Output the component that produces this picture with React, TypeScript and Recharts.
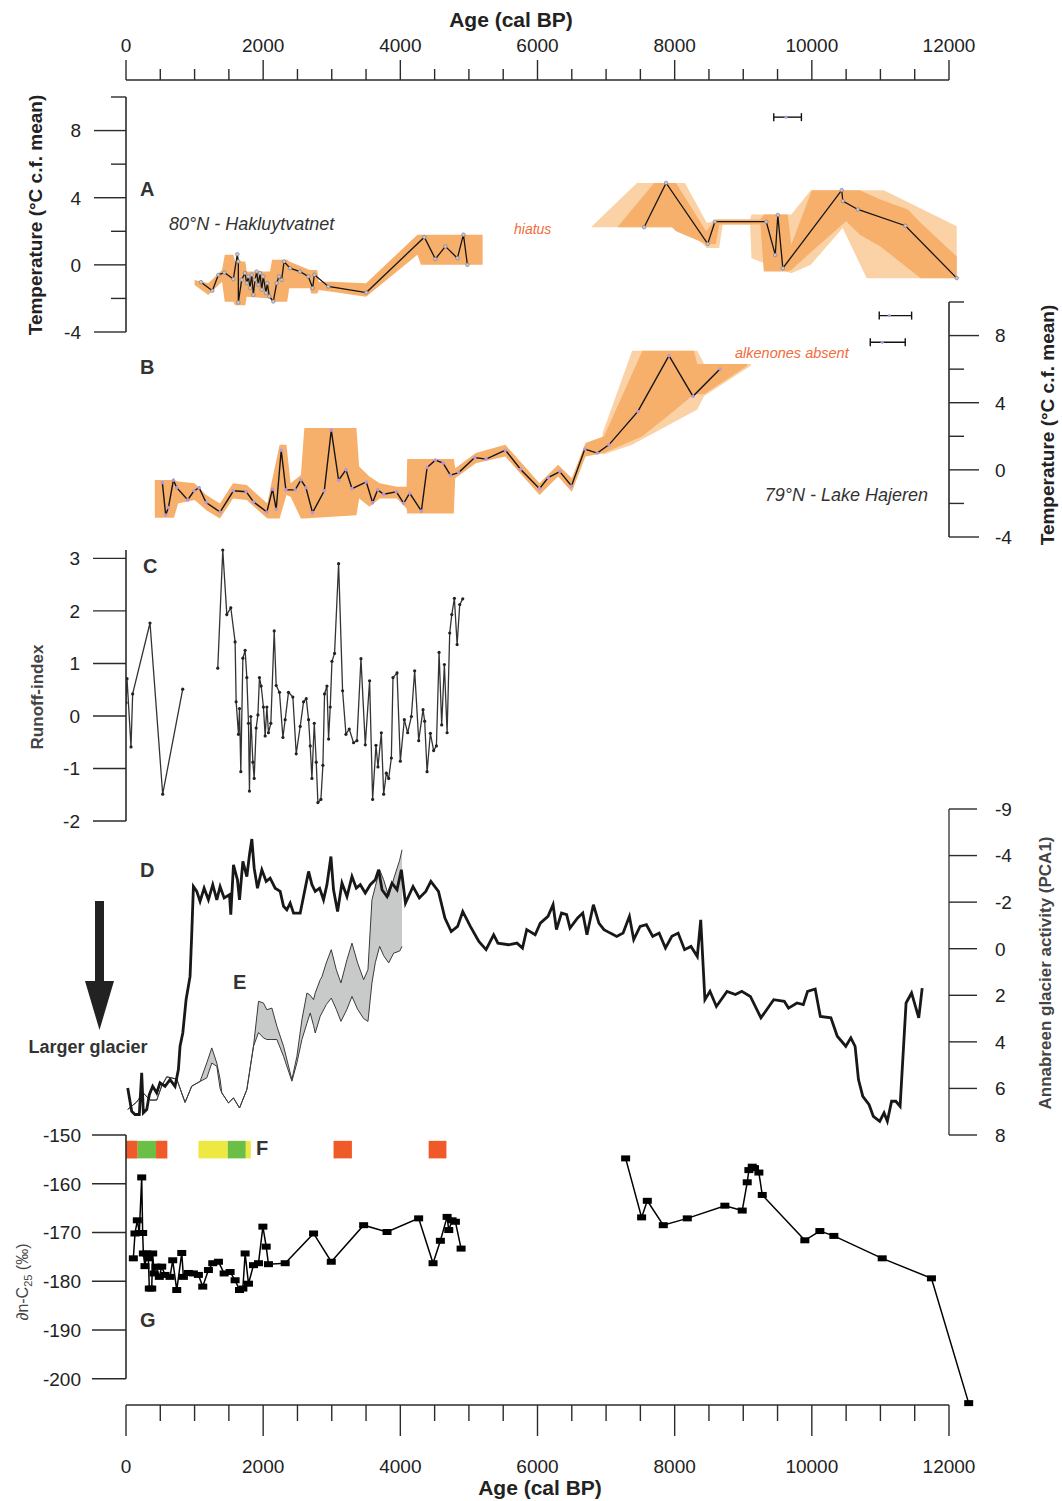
import React from 'react';
import {
  Area,
  ComposedChart,
  ErrorBar,
  Line,
  ReferenceArea,
  ReferenceLine,
  Scatter,
  XAxis,
  YAxis,
} from 'recharts';

// ---- shared x axis (age, cal BP) ----
const ageTicks = [0, 500, 1000, 1500, 2000, 2500, 3000, 3500, 4000, 4500, 5000, 5500, 6000, 6500, 7000, 7500, 8000, 8500, 9000, 9500, 10000, 10500, 11000, 11500, 12000];
const ageLabels = [0, 2000, 4000, 6000, 8000, 10000, 12000];

// ---- A: Hakluytvatnet temperature ----
const aAge = [1094, 1259, 1346, 1434, 1565, 1623, 1638, 1638, 1687, 1735, 1760, 1784, 1808, 1833, 1857, 1881, 1906, 1929, 1954, 1979, 2002, 2041, 2060, 2090, 2148, 2197, 2231, 2270, 2304, 2391, 2537, 2658, 2722, 2746, 2950, 3504, 4350, 4511, 4657, 4832, 4920, 4978, 6000, 7555, 7875, 8482, 8587, 9336, 9467, 9504, 9577, 10436, 10452, 10671, 11364, 12113];
const aTemp = [-1.03, -1.54, -0.6, -0.46, -0.85, 0.63, 0.2, -2.24, -0.89, -0.49, -1.09, -0.69, -1.38, -0.59, -1.78, -0.89, -0.4, -1.19, -0.49, -1.48, -0.69, -1.68, -1.09, -1.88, -2.18, -1.09, -0.69, -0.89, 0.2, -0.2, -0.4, -0.69, -1.38, -0.59, -1.29, -1.65, 1.65, 0.35, 1.1, 0.4, 1.8, 0, null, 2.24, 4.88, 1.25, 2.57, 2.57, 0.59, 2.97, -0.2, 4.45, 3.8, 3.3, 2.33, -0.79];

const aBandAgeL = [1000, 1200, 1400, 1440, 1565, 1590, 1740, 1760, 2100, 2130, 2350, 2380, 2680, 2700, 2790, 2810, 3000, 3500, 4250, 4300, 5200];
const aBandLoL = [-1.2, -1.8, -1.0, -2.2, -2.2, -2.4, -2.4, -1.9, -2.0, -2.2, -2.2, -1.4, -1.4, -1.7, -1.7, -1.5, -1.6, -1.9, 0.6, 0.0, 0.0];
const aBandHiL = [-0.9, -1.1, -0.3, 0.6, 0.6, 0.2, 0.2, -0.4, -0.4, 0.3, 0.3, 0.2, -0.3, -0.3, -0.3, -1.0, -1.0, -1.1, 1.8, 1.8, 1.8];

const aBandAgeR = [7175, 7700, 7960, 8020, 8460, 8600, 8650, 9250, 9300, 9650, 9700, 10000, 10500, 10700, 11000, 11400, 11590, 12113];
const aBandLoR = [2.24, 2.24, 2.24, 2.0, 1.25, 1.25, 2.4, 2.4, -0.4, -0.4, -0.3, 0.8, 2.6, 1.8, 1.1, -0.2, -0.8, -0.8];
const aBandHiR = [2.3, 4.88, 4.88, 4.88, 2.0, 2.7, 2.7, 2.7, 3.0, 3.0, 1.2, 4.45, 4.45, 4.45, 3.9, 3.3, 2.5, 0.5];

const aLightAge = [6780, 7450, 8150, 8470, 8650, 8700, 9100, 9120, 9700, 9985, 10450, 10800, 11050, 12113];
const aLightLo = [2.24, 2.24, 2.24, 1.0, 1.0, 2.4, 2.4, 0.4, -0.5, 0.0, 2.2, -0.8, -0.8, -0.8];
const aLightHi = [2.24, 4.88, 4.88, 2.5, 2.7, 2.7, 2.7, 3.0, 3.0, 4.45, 4.45, 4.45, 4.45, 2.3];

// age uncertainty markers
const aErrAge = [9624];
const aErrTemp = [8.8];
const aErrLow = [179];
const aErrHigh = [224];

// ---- B: Lake Hajeren temperature ----
const bAge = [530, 579, 618, 691, 740, 900, 993, 1066, 1168, 1372, 1567, 1752, 1860, 2054, 2136, 2190, 2263, 2331, 2467, 2550, 2623, 2720, 2891, 2993, 3100, 3207, 3295, 3504, 3596, 3669, 3757, 3942, 4049, 4136, 4307, 4390, 4511, 4623, 4730, 4851, 5085, 5251, 5533, 5752, 6029, 6156, 6325, 6496, 6690, 6871, 7041, 7464, 7917, 8267, 8661];
const bTemp = [-0.76, -2.69, -2.25, -0.62, -1.06, -1.79, -1.25, -1.06, -1.95, -2.51, -1.25, -1.3, -1.91, -2.51, -1.15, -2.35, 1.17, -1.19, -1.19, -0.6, -1.06, -2.55, -1.25, 2.37, -0.62, 0, -1.12, -0.72, -1.95, -1.19, -1.45, -1.31, -1.99, -1.39, -2.45, 0.14, 0.58, 0.4, -0.32, -0.16, 0.73, 0.64, 1.17, 0.04, -1.12, -0.46, -0.1, -0.96, 1.24, 1.0, 1.49, 3.48, 6.8, 4.38, 6.01];

const bBandAge = [420, 700, 760, 1000, 1170, 1370, 1560, 1760, 2060, 2120, 2240, 2340, 2400, 2550, 2600, 3360, 3400, 3550, 3700, 3950, 4090, 4100, 4780, 4800, 5100, 5530, 6030, 6300, 6500, 6700, 6970, 7530, 7990, 8280, 8330, 8430, 9060];
const bBandLo = [-2.85, -2.85, -2.0, -1.8, -2.4, -2.9, -1.7, -1.8, -2.9, -2.9, -2.9, -1.5, -1.6, -2.9, -2.9, -2.7, -1.7, -2.2, -1.7, -1.7, -2.3, -2.6, -2.6, -0.5, 0.4, 0.8, -1.5, -0.4, -1.3, 0.8, 1.0, 2.0, 3.5, 4.5, 4.5, 4.5, 6.2];
const bBandHi = [-0.6, -0.6, -0.7, -0.8, -1.5, -2.0, -0.8, -0.9, -2.0, -0.8, 1.5, 1.5, -0.8, -0.3, 2.5, 2.5, 0.2, -0.4, -0.8, -1.0, -1.0, 0.65, 0.65, 0.1, 1.0, 1.5, -0.8, 0.3, -0.5, 1.6, 2.0, 7.1, 7.1, 7.1, 6.3, 6.3, 6.3];

const bLightAge = [6950, 7380, 8330, 8430, 9110];
const bLightLo = [0.9, 1.5, 3.6, 4.4, 6.2];
const bLightHi = [2.2, 7.1, 7.1, 6.3, 6.3];

const bErrAge = [11129, 11027];
const bErrTemp = [9.19, 7.6];
const bErrLow = [146, 175];
const bErrHigh = [326, 335];

// ---- C: runoff index ----
const cAge = [0, 15, 73, 97, 350, 535, 827, 1000, 1338, 1411, 1470, 1528, 1591, 1606, 1640, 1655, 1674, 1704, 1737, 1762, 1786, 1800, 1820, 1850, 1869, 1898, 1923, 1946, 1971, 2004, 2029, 2054, 2077, 2112, 2161, 2190, 2238, 2288, 2321, 2369, 2433, 2482, 2540, 2589, 2628, 2662, 2686, 2711, 2745, 2774, 2798, 2842, 2871, 2895, 2930, 2954, 2978, 3003, 3041, 3100, 3158, 3207, 3255, 3318, 3367, 3426, 3489, 3552, 3596, 3645, 3674, 3723, 3757, 3796, 3830, 3869, 3893, 3952, 4000, 4058, 4107, 4161, 4209, 4268, 4331, 4355, 4390, 4438, 4486, 4526, 4565, 4603, 4642, 4682, 4720, 4750, 4788, 4828, 4866, 4910];
const cVal = [0.25, 0.71, -0.59, 0.42, 1.77, -1.49, 0.51, null, 0.91, 3.16, 1.93, 2.06, 1.41, 0.27, -0.35, 0.14, -1.06, 1.1, 1.25, 0.73, -0.14, -1.43, -0.01, -0.88, -1.19, -0.23, 0.02, 0.73, 0.57, 0.17, -0.38, 0.17, -0.32, -0.14, 1.62, 0.58, 0.45, -0.41, -0.07, 0.45, 0.36, -0.72, -0.2, 0.27, 0.33, -0.07, -0.57, -1.19, -0.14, -0.88, -1.65, -1.59, -0.94, 0.42, 0.57, -0.44, 0.17, 1.04, 1.19, 2.9, 0.48, -0.35, -0.25, -0.51, -0.47, 1.09, -0.55, 0.67, -1.59, -0.56, -0.97, -0.32, -1.49, -1.09, -1.19, -0.8, 0.73, 0.82, -0.86, -0.07, -0.32, -0.01, 0.86, -0.47, 0.12, -0.1, -1.06, -0.33, -0.66, -0.57, 1.21, -0.17, 0.98, -0.32, 1.58, 1.93, 2.24, 1.36, 2.12, 2.23];

// ---- D: Annabreen glacier activity (PCA1) ----
const dAge = [25, 83, 131, 194, 229, 253, 302, 340, 389, 448, 496, 569, 642, 715, 764, 788, 828, 876, 934, 959, 983, 1032, 1080, 1139, 1202, 1265, 1324, 1372, 1431, 1509, 1528, 1567, 1625, 1655, 1704, 1762, 1800, 1835, 1869, 1917, 1981, 2044, 2102, 2175, 2248, 2297, 2345, 2394, 2443, 2540, 2599, 2662, 2711, 2759, 2823, 2880, 2930, 2988, 3026, 3085, 3149, 3222, 3295, 3358, 3416, 3489, 3562, 3635, 3684, 3733, 3806, 3879, 3952, 4015, 4075, 4185, 4277, 4371, 4445, 4556, 4650, 4742, 4835, 4910, 5021, 5145, 5250, 5361, 5423, 5577, 5701, 5781, 5843, 5966, 6041, 6153, 6227, 6276, 6350, 6425, 6474, 6585, 6660, 6721, 6815, 6895, 6969, 7062, 7155, 7248, 7340, 7403, 7496, 7588, 7680, 7774, 7866, 7959, 8051, 8144, 8238, 8330, 8380, 8441, 8515, 8608, 8763, 8886, 8979, 9104, 9258, 9444, 9598, 9660, 9784, 9876, 9938, 10049, 10124, 10278, 10371, 10495, 10569, 10631, 10680, 10743, 10835, 10897, 10990, 11053, 11101, 11163, 11225, 11287, 11374, 11454, 11559, 11609];
const dVal = [5.98, 6.98, 7.12, 7.12, 5.33, 7.05, 6.91, 6.27, 5.91, 6.19, 5.76, 5.91, 5.62, 5.91, 5.19, 4.19, 3.62, 2.19, 1.19, -0.67, -2.67, -2.46, -2.03, -2.6, -2.1, -2.75, -2.1, -2.67, -2.18, -2.32, -1.46, -3.6, -2.96, -2.1, -3.75, -3.1, -4.03, -4.71, -3.46, -2.6, -3.39, -2.89, -3.03, -2.6, -2.46, -1.82, -1.67, -1.96, -1.53, -1.53, -2.39, -3.32, -2.75, -2.46, -2.6, -2.1, -2.75, -3.96, -2.53, -1.6, -2.82, -2.24, -3.1, -2.6, -2.75, -2.39, -2.75, -2.96, -3.39, -2.53, -2.24, -2.82, -2.53, -3.39, -1.96, -2.67, -2.18, -2.46, -2.89, -2.46, -1.32, -0.74, -0.96, -1.6, -0.96, -0.31, 0.04, -0.6, -0.24, -0.17, -0.24, -0.03, -0.82, -0.6, -1.1, -1.39, -1.89, -0.82, -1.53, -1.46, -0.89, -1.32, -1.53, -0.6, -1.89, -1.1, -0.82, -0.67, -0.53, -0.67, -1.39, -0.39, -0.96, -1.03, -0.53, -0.67, -0.03, -0.53, -0.67, 0.04, -0.1, 0.33, -1.24, 2.19, 1.83, 2.48, 1.83, 1.97, 1.83, 2.05, 2.97, 2.19, 2.26, 2.55, 2.33, 2.4, 1.83, 1.73, 2.91, 2.97, 3.76, 4.19, 3.83, 4.19, 5.62, 6.34, 6.7, 7.2, 7.41, 7.05, 7.41, 6.55, 6.55, 6.77, 2.33, 1.9, 2.97, 1.69];
const dTicks = [-6, -4, -2, 0, 2, 4, 6, 8];
const dTickLabels = ['-9', '-4', '-2', '0', '2', '4', '6', '8'];

// ---- E: grey envelope (same axis as D) ----
const eAge = [25, 150, 253, 350, 448, 520, 594, 740, 861, 959, 1080, 1178, 1251, 1324, 1372, 1397, 1494, 1567, 1655, 1762, 1859, 1932, 2004, 2054, 2127, 2200, 2297, 2419, 2492, 2565, 2638, 2686, 2735, 2759, 2832, 2857, 2920, 2993, 3066, 3134, 3222, 3295, 3377, 3465, 3528, 3586, 3635, 3698, 3757, 3830, 3903, 3990, 4025];
const eTop = [6.9, 6.6, 6.2, 6.5, 6.5, 5.9, 5.5, 5.6, 6.6, 5.9, 5.7, 4.9, 4.26, 4.91, 5.6, 6.19, 6.62, 6.41, 6.84, 6.05, 4.19, 2.26, 2.33, 2.62, 2.55, 3.33, 4.19, 5.62, 4.62, 3.05, 1.9, 2.0, 2.19, 1.9, 1.33, 1.2, 0.61, 0.04, 0.9, 1.47, 0.47, -0.24, 0.61, 1.33, 0.9, -2.1, -2.67, -3.39, -2.96, -2.24, -3.0, -3.8, -4.25];
const eBottom = [6.9, 6.6, 6.2, 6.5, 6.5, 5.9, 5.5, 5.6, 6.6, 5.9, 5.7, 5.55, 4.91, 5.05, 6.0, 6.19, 6.62, 6.41, 6.84, 6.05, 4.19, 3.6, 3.83, 3.9, 3.9, 3.9, 4.62, 5.69, 4.9, 3.9, 3.2, 2.76, 3.3, 3.62, 2.9, 2.76, 2.4, 2.12, 2.6, 3.12, 2.6, 2.05, 2.6, 3.0, 3.12, 1.47, 0.6, -0.1, 0.3, 0.61, 0.19, 0.1, -0.1];

// ---- F: coloured intervals ----
const fStart = [0, 170, 438, 1056, 1484, 1747, 3026, 4413];
const fEnd = [170, 438, 603, 1484, 1747, 1820, 3294, 4672];
const fColor = ['#f05a28', '#6cbf46', '#f05a28', '#eee843', '#6cbf46', '#eee843', '#f05a28', '#f05a28'];

// ---- G: dD n-C25 ----
const gAge = [107, 131, 165, 194, 229, 243, 253, 277, 302, 326, 340, 375, 389, 409, 438, 486, 521, 569, 642, 681, 740, 813, 837, 910, 983, 1056, 1119, 1202, 1265, 1348, 1431, 1518, 1591, 1655, 1704, 1737, 1786, 1859, 1932, 1996, 2044, 2077, 2321, 2735, 2993, 3465, 3806, 4267, 4477, 4584, 4682, 4706, 4755, 4803, 4886, 6000, 7285, 7518, 7601, 7834, 8184, 8732, 8985, 9058, 9082, 9131, 9164, 9228, 9277, 9898, 10117, 10321, 11026, 11744, 12287];
const gVal = [-175.3, -170.2, -167.5, -170.1, -158.7, -170.1, -174.3, -176.9, -174.3, -175.3, -181.5, -181.5, -174.3, -178.4, -177.0, -179.1, -177.0, -178.7, -179.1, -175.7, -181.8, -174.2, -179.1, -178.3, -178.4, -178.7, -181.1, -177.7, -176.3, -176.0, -178.4, -178.1, -179.8, -181.8, -181.5, -174.3, -180.5, -176.7, -176.3, -168.8, -172.9, -176.5, -176.3, -170.2, -176.0, -168.5, -169.9, -167.1, -176.3, -171.7, -166.8, -169.5, -167.5, -167.8, -173.3, null, -154.8, -166.9, -163.5, -168.5, -167.1, -164.5, -165.5, -159.7, -157.2, -156.5, -156.8, -157.7, -162.3, -171.6, -169.7, -170.7, -175.3, -179.4, -205.0];

// ---------------------------------------------------------------
const FONT = '"Liberation Sans", Arial, Helvetica, sans-serif';
const W = 1062;
const X0 = 126; // pixel of age 0
const X12 = 949; // pixel of age 12000
const PX = (X12 - X0) / 12000;
const PAD = 16; // room above/below each panel so edge labels are not cut
const AXIS = '#2b2b2b';
const DARK_OR = '#f6b06c';
const LIGHT_OR = '#fbd2a6';

const series = (ages: number[], key: string, vals: (number | null)[]) =>
  ages.map((age, i) => ({ age, [key]: vals[i] }));
const band = (ages: number[], lo: number[], hi: number[]) =>
  ages.map((age, i) => ({ age, range: [lo[i], hi[i]] }));
const errs = (ages: number[], temps: number[], low: number[], high: number[]) =>
  ages.map((age, i) => ({ age, temp: temps[i], err: [low[i], high[i]] }));

const tickStyle = { fontFamily: FONT, fontSize: 19, fill: '#222' };

function yTick(side: 'left' | 'right', label: (v: number) => string | null, majorLen: number, minorLen: number, gap: number) {
  return (p: any) => {
    const v = p.payload.value;
    const lab = label(v);
    const len = lab !== null ? majorLen : minorLen;
    const dir = side === 'left' ? -1 : 1;
    return (
      <g>
        <line x1={p.x} y1={p.y} x2={p.x + dir * len} y2={p.y} stroke={AXIS} strokeWidth={1.4} />
        {lab !== null && (
          <text x={p.x + dir * (len + gap)} y={p.y} dy="0.36em" textAnchor={side === 'left' ? 'end' : 'start'} style={tickStyle}>
            {lab}
          </text>
        )}
      </g>
    );
  };
}

function xTick(side: 'top' | 'bottom') {
  return (p: any) => {
    const v = p.payload.value;
    const major = ageLabels.includes(v);
    const len = side === 'top' ? (major ? 20 : 11) : major ? 31 : 16;
    const dir = side === 'top' ? -1 : 1;
    return (
      <g>
        <line x1={p.x} y1={p.y} x2={p.x} y2={p.y + dir * len} stroke={AXIS} strokeWidth={1.4} />
        {major && (
          <text x={p.x} y={side === 'top' ? p.y - 28 : p.y + 68} textAnchor="middle" style={tickStyle}>
            {v}
          </text>
        )}
      </g>
    );
  };
}

const every4 = (v: number) => (v % 4 === 0 ? String(v) : null);
const all = (v: number) => String(v);

const leftMargin = (right: number) => ({ top: PAD, bottom: PAD, left: X0 - 60, right });
const rightMargin = { top: PAD, bottom: PAD, left: X0, right: W - X12 - 60 };
const wideRight = W - (X0 + 12600 * PX);

const dotA = (p: any) =>
  p.cy == null || p.payload.temp == null ? <g key={p.key} /> : <circle key={p.key} cx={p.cx} cy={p.cy} r={1.8} fill="#c9c3d6" stroke="#777" strokeWidth={0.6} />;
const dotB = (p: any) =>
  p.cy == null ? <g key={p.key} /> : <circle key={p.key} cx={p.cx} cy={p.cy} r={1.8} fill="#b697dd" />;
const dotC = (p: any) =>
  p.cy == null || p.payload.v == null ? <g key={p.key} /> : <circle key={p.key} cx={p.cx} cy={p.cy} r={1.6} fill="#222" />;
const dotG = (p: any) =>
  p.cy == null || p.payload.g == null ? <g key={p.key} /> : <rect key={p.key} x={p.cx - 4.5} y={p.cy - 3} width={9} height={6} fill="#000" />;
const errDot = (p: any) => <circle cx={p.cx} cy={p.cy} r={1.6} fill="#b697dd" />;

// a panel whose plot area spans pixel rows [top, top + height)
function Panel({ top, height, children }: { top: number; height: number; children: (h: number) => React.ReactNode }) {
  return (
    <div style={{ position: 'absolute', left: 0, top: top - PAD, width: W, height: height + 2 * PAD }}>
      {children(height + 2 * PAD)}
    </div>
  );
}

export default function App() {
  const axisData = ageTicks.map((age) => ({ age }));
  return (
    <div style={{ position: 'absolute', left: 0, top: 0, width: W, height: 1501, background: '#fff', fontFamily: FONT }}>
      {/* top age axis */}
      <div style={{ position: 'absolute', left: 0, top: 0, width: W, height: 180 }}>
        <ComposedChart width={W} height={180} data={axisData} margin={{ top: 0, bottom: 0, left: X0, right: W - X12 }}>
          <XAxis orientation="top" dataKey="age" type="number" domain={[0, 12000]} ticks={ageTicks} interval={0} height={80}
            tickSize={0} tickMargin={0} tickLine={false} axisLine={{ stroke: AXIS, strokeWidth: 1.6 }} tick={xTick('top')} />
          <YAxis hide domain={[0, 1]} />
        </ComposedChart>
      </div>

      {/* A */}
      <Panel top={97} height={235}>
        {(h) => (
          <ComposedChart width={W} height={h} margin={leftMargin(wideRight)}>
            <XAxis dataKey="age" type="number" domain={[0, 12600]} hide allowDataOverflow />
            <YAxis type="number" domain={[-4, 10]} ticks={[-4, -2, 0, 2, 4, 6, 8, 10]} interval={0} width={60}
              tickSize={0} tickMargin={0} tickLine={false} axisLine={{ stroke: AXIS, strokeWidth: 1.6 }} tick={yTick('left', every4, 32, 15, 13)} />
            <Area data={band(aLightAge, aLightLo, aLightHi)} dataKey="range" type="linear" fill={LIGHT_OR} fillOpacity={1} stroke="none" isAnimationActive={false} />
            <Area data={band(aBandAgeL, aBandLoL, aBandHiL)} dataKey="range" type="linear" fill={DARK_OR} fillOpacity={1} stroke="none" isAnimationActive={false} />
            <Area data={band(aBandAgeR, aBandLoR, aBandHiR)} dataKey="range" type="linear" fill={DARK_OR} fillOpacity={1} stroke="none" isAnimationActive={false} />
            <Line data={series(aAge, 'temp', aTemp)} dataKey="temp" type="linear" stroke="#151515" strokeWidth={1.3} dot={dotA} activeDot={false} isAnimationActive={false} />
            <Scatter data={errs(aErrAge, aErrTemp, aErrLow, aErrHigh)} dataKey="temp" shape={errDot} isAnimationActive={false}>
              <ErrorBar dataKey="err" direction="x" width={4} stroke="#111" strokeWidth={1.4} />
            </Scatter>
          </ComposedChart>
        )}
      </Panel>

      {/* B */}
      <Panel top={302} height={235}>
        {(h) => (
          <ComposedChart width={W} height={h} margin={rightMargin}>
            <XAxis dataKey="age" type="number" domain={[0, 12000]} hide allowDataOverflow />
            <YAxis orientation="right" type="number" domain={[-4, 10]} ticks={[-4, -2, 0, 2, 4, 6, 8, 10]} interval={0} width={60}
              tickSize={0} tickMargin={0} tickLine={false} axisLine={{ stroke: AXIS, strokeWidth: 1.6 }} tick={yTick('right', every4, 30, 15, 16)} />
            <Area data={band(bLightAge, bLightLo, bLightHi)} dataKey="range" type="linear" fill={LIGHT_OR} fillOpacity={1} stroke="none" isAnimationActive={false} />
            <Area data={band(bBandAge, bBandLo, bBandHi)} dataKey="range" type="linear" fill={DARK_OR} fillOpacity={1} stroke="none" isAnimationActive={false} />
            <Line data={series(bAge, 'temp', bTemp)} dataKey="temp" type="linear" stroke="#151515" strokeWidth={1.4} dot={dotB} activeDot={false} isAnimationActive={false} />
            <Scatter data={errs(bErrAge, bErrTemp, bErrLow, bErrHigh)} dataKey="temp" shape={errDot} isAnimationActive={false}>
              <ErrorBar dataKey="err" direction="x" width={4} stroke="#111" strokeWidth={1.4} />
            </Scatter>
          </ComposedChart>
        )}
      </Panel>

      {/* C */}
      <Panel top={550} height={271}>
        {(h) => (
          <ComposedChart width={W} height={h} margin={leftMargin(W - X12)}>
            <XAxis dataKey="age" type="number" domain={[0, 12000]} hide allowDataOverflow />
            <YAxis type="number" domain={[-2, 3]} ticks={[-2, -1, 0, 1, 2, 3]} interval={0} width={60}
              tickSize={0} tickMargin={0} tickLine={false} axisLine={{ stroke: AXIS, strokeWidth: 1.6 }} tick={yTick('left', all, 33, 33, 13)} />
            <Line data={series(cAge, 'v', cVal)} dataKey="v" type="linear" stroke="#333" strokeWidth={1.3} dot={dotC} activeDot={false} isAnimationActive={false} />
          </ComposedChart>
        )}
      </Panel>

      {/* D + E */}
      <Panel top={809} height={326}>
        {(h) => (
          <ComposedChart width={W} height={h} margin={rightMargin}>
            <XAxis dataKey="age" type="number" domain={[0, 12000]} hide allowDataOverflow />
            <YAxis orientation="right" type="number" reversed domain={[-6, 8]} ticks={dTicks} interval={0} width={60}
              tickSize={0} tickMargin={0} tickLine={false} axisLine={{ stroke: '#555', strokeWidth: 1.6 }}
              tick={yTick('right', (v) => dTickLabels[dTicks.indexOf(v)], 28, 28, 18)} />
            <Area data={band(eAge, eBottom, eTop)} dataKey="range" type="linear" fill="#c8c9c9" fillOpacity={1} stroke="#3a3a3a" strokeWidth={1} isAnimationActive={false} />
            <Line data={series(dAge, 'd', dVal)} dataKey="d" type="linear" stroke="#181818" strokeWidth={2.8} dot={false} activeDot={false} isAnimationActive={false} />
          </ComposedChart>
        )}
      </Panel>

      {/* F + G */}
      <Panel top={1135} height={273}>
        {(h) => (
          <ComposedChart width={W} height={h} margin={leftMargin(wideRight)}>
            <XAxis dataKey="age" type="number" domain={[0, 12600]} hide allowDataOverflow />
            <YAxis type="number" domain={[-206, -150]} ticks={[-200, -190, -180, -170, -160, -150]} interval={0} width={60}
              tickSize={0} tickMargin={0} tickLine={false} axisLine={false} tick={yTick('left', all, 34, 34, 11)} />
            <ReferenceLine segment={[{ x: 0, y: -200 }, { x: 0, y: -150 }]} stroke={AXIS} strokeWidth={1.6} ifOverflow="visible" />
            {fStart.map((s, i) => (
              <ReferenceArea key={i} x1={s} x2={fEnd[i]} y1={-154.8} y2={-151.2} fill={fColor[i]} fillOpacity={1} stroke="none" />
            ))}
            <Line data={series(gAge, 'g', gVal)} dataKey="g" type="linear" stroke="#000" strokeWidth={1.5} dot={dotG} activeDot={false} isAnimationActive={false} />
          </ComposedChart>
        )}
      </Panel>

      {/* bottom age axis */}
      <div style={{ position: 'absolute', left: 0, top: 1305, width: W, height: 196 }}>
        <ComposedChart width={W} height={196} data={axisData} margin={{ top: 0, bottom: 0, left: X0, right: W - X12 }}>
          <XAxis orientation="bottom" dataKey="age" type="number" domain={[0, 12000]} ticks={ageTicks} interval={0} height={96}
            tickSize={0} tickMargin={0} tickLine={false} axisLine={{ stroke: AXIS, strokeWidth: 1.6 }} tick={xTick('bottom')} />
          <YAxis hide domain={[0, 1]} />
        </ComposedChart>
      </div>

      {/* titles, panel letters and annotations */}
      <svg width={W} height={1501} style={{ position: 'absolute', left: 0, top: 0, pointerEvents: 'none' }}>
        <g style={{ fontFamily: FONT }}>
          <text x={511} y={27} textAnchor="middle" fontSize={21} fontWeight="bold" fill="#222">Age (cal BP)</text>
          <text x={540} y={1495} textAnchor="middle" fontSize={21} fontWeight="bold" fill="#222">Age (cal BP)</text>

          <text transform="translate(42,215) rotate(-90)" textAnchor="middle" fontSize={19} fontWeight="bold" fill="#222">Temperature (°C c.f. mean)</text>
          <text transform="translate(1054,425) rotate(-90)" textAnchor="middle" fontSize={19} fontWeight="bold" fill="#222">Temperature (°C c.f. mean)</text>
          <text transform="translate(43,697) rotate(-90)" textAnchor="middle" fontSize={17} fontWeight="bold" fill="#444">Runoff-index</text>
          <text transform="translate(1051,973) rotate(-90)" textAnchor="middle" fontSize={17} fontWeight="bold" fill="#444">Annabreen glacier activity (PCA1)</text>
          <text transform="translate(28,1282) rotate(-90)" textAnchor="middle" fontSize={16} fill="#444">
            ∂n-C<tspan fontSize={11} dy={4}>25</tspan><tspan dy={-4}> (‰)</tspan>
          </text>

          <text x={140} y={196} fontSize={20} fontWeight="bold" fill="#333">A</text>
          <text x={140} y={374} fontSize={20} fontWeight="bold" fill="#333">B</text>
          <text x={143} y={573} fontSize={20} fontWeight="bold" fill="#333">C</text>
          <text x={140} y={877} fontSize={20} fontWeight="bold" fill="#333">D</text>
          <text x={233} y={989} fontSize={20} fontWeight="bold" fill="#333">E</text>
          <text x={256} y={1155} fontSize={20} fontWeight="bold" fill="#333">F</text>
          <text x={140} y={1327} fontSize={20} fontWeight="bold" fill="#333">G</text>

          <text x={169} y={230} fontSize={18} fontStyle="italic" fill="#333">80°N - Hakluytvatnet</text>
          <text x={928} y={501} textAnchor="end" fontSize={18} fontStyle="italic" fill="#333">79°N - Lake Hajeren</text>
          <text x={514} y={234} fontSize={14} fontStyle="italic" fill="#f26c3c">hiatus</text>
          <text x={735} y={358} fontSize={14.5} fontStyle="italic" fill="#f26c3c">alkenones absent</text>

          <rect x={95} y={901} width={9} height={82} fill="#222" />
          <polygon points="85,981 114,981 99.5,1030" fill="#222" />
          <text x={88} y={1053} textAnchor="middle" fontSize={18} fontWeight="bold" fill="#333">Larger glacier</text>
        </g>
      </svg>
    </div>
  );
}
